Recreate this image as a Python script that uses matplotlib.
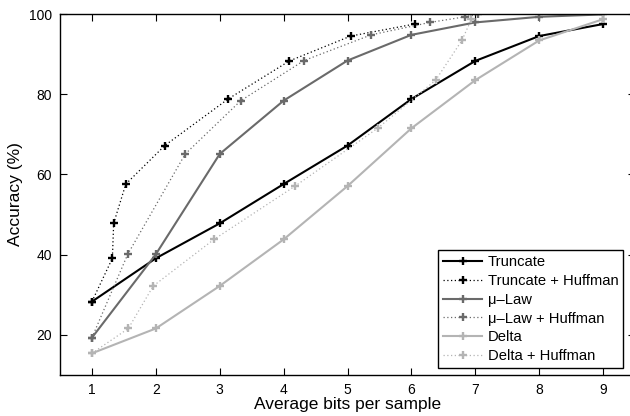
import matplotlib
matplotlib.use("Agg")
from matplotlib import pyplot as plt

plt.rcParams['font.family'] = ['Liberation Sans', 'DejaVu Sans']
plt.rcParams['font.size'] = 10

bits = [1, 2, 3, 4, 5, 6, 7, 8, 9]

# accuracy (%) per method
acc_truncate = [28.3, 39.1, 47.8, 57.6, 67.2, 78.8, 88.3, 94.5, 97.5]
acc_mulaw = [19.3, 40.1, 65.1, 78.4, 88.4, 94.8, 97.9, 99.3, 99.9]
acc_delta = [15.4, 21.6, 32.2, 43.8, 57.1, 71.5, 83.5, 93.4, 98.7]

# same accuracies, average bits after Huffman coding
bits_truncate_huff = [1, 1.32, 1.34, 1.53, 2.14, 3.13, 4.09, 5.05, 6.05]
bits_mulaw_huff = [1, 1.56, 2.46, 3.33, 4.32, 5.37, 6.29, 6.84, 7.04]
bits_delta_huff = [1, 1.57, 1.96, 2.91, 4.18, 5.47, 6.38, 6.79, 6.94]

black = 'black'
dark = '#6a6a6a'
light = '#b4b4b4'

fig = plt.figure(figsize=(6.3, 4.16), dpi=100)
ax = fig.add_axes([60 / 630, 41 / 416, 575 / 630, 361 / 416])

mk = dict(marker='+', markersize=6, markeredgewidth=1.7)
dots = (0, (1, 2))
ax.plot(bits, acc_truncate, '-', color=black, lw=1.5, label='Truncate', **mk)
ax.plot(bits_truncate_huff, acc_truncate, linestyle=dots, color=black, lw=0.9,
        label='Truncate + Huffman', **mk)
ax.plot(bits, acc_mulaw, '-', color=dark, lw=1.5, label='\u03bc\u2013Law', **mk)
ax.plot(bits_mulaw_huff, acc_mulaw, linestyle=dots, color=dark, lw=0.9,
        label='\u03bc\u2013Law + Huffman', **mk)
ax.plot(bits, acc_delta, '-', color=light, lw=1.5, label='Delta', **mk)
ax.plot(bits_delta_huff, acc_delta, linestyle=dots, color=light, lw=0.9,
        label='Delta + Huffman', **mk)

ax.set_xlim(0.5, 9.5)
ax.set_ylim(10, 100)
ax.set_xticks(bits)
ax.set_yticks([20, 40, 60, 80, 100])
ax.tick_params(direction='in', top=True, right=True, length=5, width=0.8,
               labelsize=10, pad=6)
for s in ax.spines.values():
    s.set_linewidth(1)

ax.set_xlabel('Average bits per sample', fontsize=12.5, labelpad=0)
ax.set_ylabel('Accuracy (%)', fontsize=12.5, labelpad=4)

leg = ax.legend(loc='lower right', bbox_to_anchor=(623 / 630, 48 / 416),
                bbox_transform=fig.transFigure, borderaxespad=0,
                fancybox=False, framealpha=1, edgecolor='black',
                fontsize=10.6, handlelength=2.7, handletextpad=0.35,
                labelspacing=0.33, borderpad=0.32)
leg.get_frame().set_linewidth(1)

fig.savefig('out.png', dpi=100)
